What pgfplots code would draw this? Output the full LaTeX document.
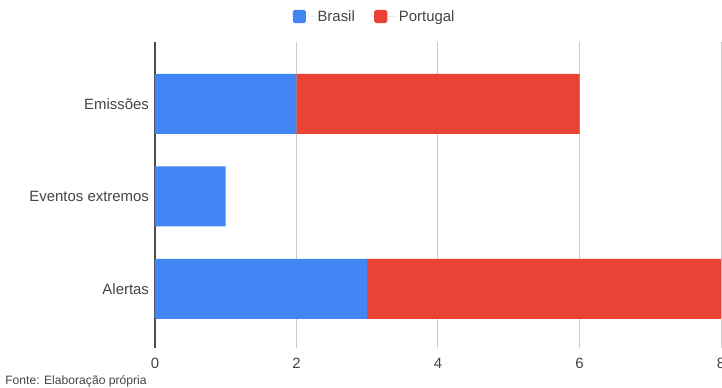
\documentclass[border=0pt]{standalone}
\usepackage{pgfplots}
\pgfplotsset{compat=1.18}
\usepackage{fontspec}
\setmainfont{Liberation Sans}
\definecolor{gblue}{HTML}{4285F4}
\definecolor{gred}{HTML}{EA4335}
\definecolor{gtext}{HTML}{444444}
\definecolor{ggrid}{HTML}{CCCCCC}
\begin{document}
\begin{tikzpicture}[x=0.75pt,y=0.75pt]
\begin{axis}[
  name=ax,
  xbar stacked,
  scale only axis,
  width=424.5pt, height=229.5pt,
  xmin=0, xmax=8,
  ymin=-0.64, ymax=2.67,
  bar width=45pt,
  xtick={0,2,4,6,8},
  ytick={0,1,2},
  yticklabels={Alertas,Eventos extremos,Emissões},
  axis line style={draw=none},
  xmajorgrids=true,
  grid style={ggrid, line width=0.75pt},
  extra x ticks={0},
  extra x tick labels={},
  extra x tick style={grid style={black!70, line width=0.9pt}},
  tick style={draw=none},
  tick label style={font=\fontsize{11.2}{13}\selectfont, text=gtext},
  xticklabel style={anchor=center, yshift=-11.25pt},
  yticklabel style={xshift=-1pt},
  /pgf/number format/assume math mode=true,
  legend columns=2,
  legend style={at={(0.3887,1.082)}, anchor=center, draw=none, fill=none,
    font=\fontsize{11.2}{13}\selectfont, text=gtext,
    /tikz/every even column/.append style={column sep=12.5pt}},
  legend image code/.code={\fill[#1, rounded corners=1.2pt] (0pt,-4.6pt) rectangle (9.8pt,5.2pt);
    \path (0pt,0pt) -- (16.5pt,0pt);},
  clip=false,
]
\addplot[gblue, fill=gblue, draw=none] coordinates {(3,0) (1,1) (2,2)};
\addplot[gred, fill=gred, draw=none] coordinates {(5,0) (0,1) (4,2)};
\legend{Brasil, Portugal}
\end{axis}
\node[anchor=west, inner sep=0pt, font=\fontsize{9.1}{10}\selectfont, text=gtext] at ([xshift=-150*0.75pt, yshift=-33*0.75pt]ax.south west) {Fonte: Elaboração própria};
\pgfresetboundingbox
\path[use as bounding box] ([xshift=-155*0.75pt, yshift=-40*0.75pt]ax.south west) rectangle ([xshift=1*0.75pt, yshift=42*0.75pt]ax.north east);
\end{tikzpicture}
\end{document}
